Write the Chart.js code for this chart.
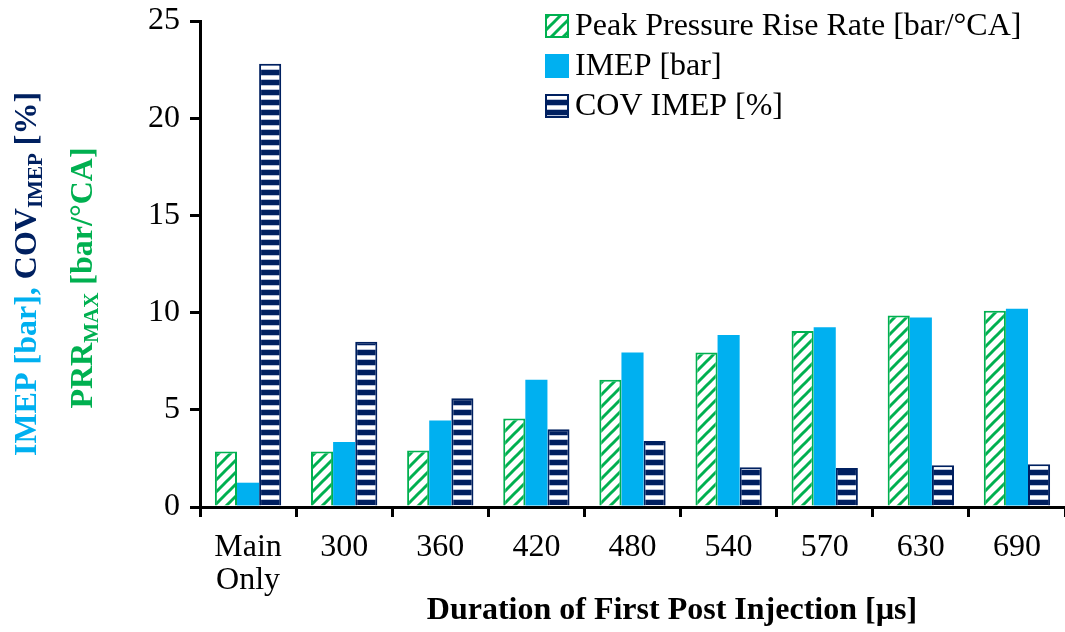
<!DOCTYPE html>
<html>
<head>
<meta charset="utf-8">
<script src="https://cdn.jsdelivr.net/npm/chart.js@4.4.0/dist/chart.umd.min.js"></script>
<style>
  html, body { margin: 0; padding: 0; background: #ffffff; }
  #wrap { width: 1065px; height: 632px; position: relative; }
</style>
</head>
<body>
<div id="wrap"><canvas id="c" width="1065" height="632"></canvas></div>
<script>
const categories = [['Main', 'Only'], '300', '360', '420', '480', '540', '570', '630', '690'];
const prrValues  = [2.85, 2.85, 2.9, 4.55, 6.55, 7.95, 9.05, 9.85, 10.1];
const imepValues = [1.25, 3.35, 4.45, 6.55, 7.95, 8.85, 9.25, 9.75, 10.2];
const covValues  = [22.8, 8.5, 5.6, 4.0, 3.4, 2.05, 2.0, 2.15, 2.2];
const yTicks = [0, 5, 10, 15, 20, 25];

const seriesNames = ['Peak Pressure Rise Rate [bar/\u00B0CA]', 'IMEP [bar]', 'COV IMEP [%]'];
const GREEN = '#00B050', BLUE = '#00B0F0', NAVY = '#002060';
const SERIF = '"Liberation Serif", "Times New Roman", serif';

function diagPattern() {
  const s = 12;
  const c = document.createElement('canvas'); c.width = s; c.height = s;
  const g = c.getContext('2d');
  g.fillStyle = '#ffffff'; g.fillRect(0, 0, s, s);
  g.strokeStyle = GREEN; g.lineWidth = 3; g.lineCap = 'square';
  for (const o of [-s, 0, s]) {
    g.beginPath(); g.moveTo(o, s); g.lineTo(o + s, 0); g.stroke();
  }
  return g.createPattern(c, 'repeat');
}
function horizPattern() {
  const c = document.createElement('canvas'); c.width = 10; c.height = 10;
  const g = c.getContext('2d');
  g.fillStyle = NAVY; g.fillRect(0, 0, 10, 10);
  g.fillStyle = '#b8c2da'; g.fillRect(0, 5, 10, 5);
  g.fillStyle = '#ffffff'; g.fillRect(0, 6, 10, 3);
  return g.createPattern(c, 'repeat');
}
const prrFill = diagPattern();
const covFill = horizPattern();

const yTitlePlugin = {
  id: 'yTitle',
  afterDraw(chart) {
    const ctx = chart.ctx;
    const size = 32;
    const lines = [
      { x: 28, cy: 274, segs: [
        { t: 'IMEP [bar], ', c: BLUE },
        { t: 'COV', c: NAVY },
        { t: 'IMEP', c: NAVY, sub: true },
        { t: ' [%]', c: NAVY }
      ]},
      { x: 84, cy: 278, segs: [
        { t: 'PRR', c: GREEN },
        { t: 'MAX', c: GREEN, sub: true },
        { t: ' [bar/\u00B0CA]', c: GREEN }
      ]}
    ];
    ctx.save();
    for (const line of lines) {
      let total = 0;
      for (const s of line.segs) {
        ctx.font = 'bold ' + (s.sub ? Math.round(size * 0.65) : size) + 'px ' + SERIF;
        s.w = ctx.measureText(s.t).width; total += s.w;
      }
      ctx.save();
      ctx.translate(line.x, line.cy);
      ctx.rotate(-Math.PI / 2);
      let x = -total / 2;
      ctx.textBaseline = 'middle';
      ctx.textAlign = 'left';
      for (const s of line.segs) {
        ctx.font = 'bold ' + (s.sub ? Math.round(size * 0.65) : size) + 'px ' + SERIF;
        ctx.fillStyle = s.c;
        ctx.fillText(s.t, x, s.sub ? 9 : 0);
        x += s.w;
      }
      ctx.restore();
    }
    ctx.restore();
  }
};

const xTitlePlugin = {
  id: 'xTitle',
  afterDraw(chart) {
    const ctx = chart.ctx;
    ctx.save();
    ctx.font = 'bold 32px ' + SERIF;
    ctx.fillStyle = '#000';
    ctx.textAlign = 'center';
    ctx.textBaseline = 'middle';
    ctx.fillText('Duration of First Post Injection [\u00B5s]', 672, 611);
    ctx.restore();
  }
};

const legendPlugin = {
  id: 'customLegend',
  afterDraw(chart) {
    const ctx = chart.ctx;
    const fills = [prrFill, BLUE, covFill];
    const borders = [GREEN, null, NAVY];
    const rows = [26, 66, 106];
    ctx.save();
    for (let i = 0; i < 3; i++) {
      const bx = 545, by = rows[i] - 12, bs = 24;
      ctx.fillStyle = fills[i];
      ctx.fillRect(bx, by, bs, bs);
      if (borders[i]) {
        ctx.strokeStyle = borders[i]; ctx.lineWidth = 2;
        ctx.strokeRect(bx + 1, by + 1, bs - 2, bs - 2);
      }
      ctx.font = '32px ' + SERIF;
      ctx.fillStyle = '#000';
      ctx.textAlign = 'left';
      ctx.textBaseline = 'middle';
      ctx.fillText(seriesNames[i], 575, rows[i] + 1);
    }
    ctx.restore();
  }
};

new Chart(document.getElementById('c'), {
  type: 'bar',
  data: {
    labels: categories,
    datasets: [
      { label: seriesNames[0], data: prrValues, backgroundColor: prrFill, borderColor: GREEN, borderWidth: 2 },
      { label: seriesNames[1], data: imepValues, backgroundColor: BLUE, borderWidth: 0 },
      { label: seriesNames[2], data: covValues, backgroundColor: covFill, borderColor: NAVY, borderWidth: 2 }
    ]
  },
  options: {
    responsive: false,
    animation: false,
    devicePixelRatio: 1,
    layout: { padding: { top: 21, right: 0, left: 0, bottom: 0 } },
    datasets: { bar: { categoryPercentage: 0.69, barPercentage: 1.0 } },
    plugins: { legend: { display: false }, tooltip: { enabled: false } },
    scales: {
      x: {
        offset: true,
        grid: { offset: true, drawOnChartArea: false, drawTicks: true, tickLength: 10, color: '#000', lineWidth: 3 },
        border: { display: true, color: '#000', width: 3 },
        ticks: { color: '#000', font: { family: SERIF, size: 32, lineHeight: 1.03 }, padding: 14, maxRotation: 0, autoSkip: false },
        afterFit(scale) { scale.height = 125; }
      },
      y: {
        min: 0, max: 25,
        afterBuildTicks(scale) { scale.ticks = yTicks.map(v => ({ value: v })); },
        grid: { drawOnChartArea: false, drawTicks: true, tickLength: 10, color: '#000', lineWidth: 3 },
        border: { display: true, color: '#000', width: 3 },
        ticks: { color: '#000', font: { family: SERIF, size: 32, lineHeight: 0.6 }, padding: 10 },
        afterFit(scale) { scale.width = 200; }
      }
    }
  },
  plugins: [yTitlePlugin, xTitlePlugin, legendPlugin]
});
</script>
</body>
</html>
